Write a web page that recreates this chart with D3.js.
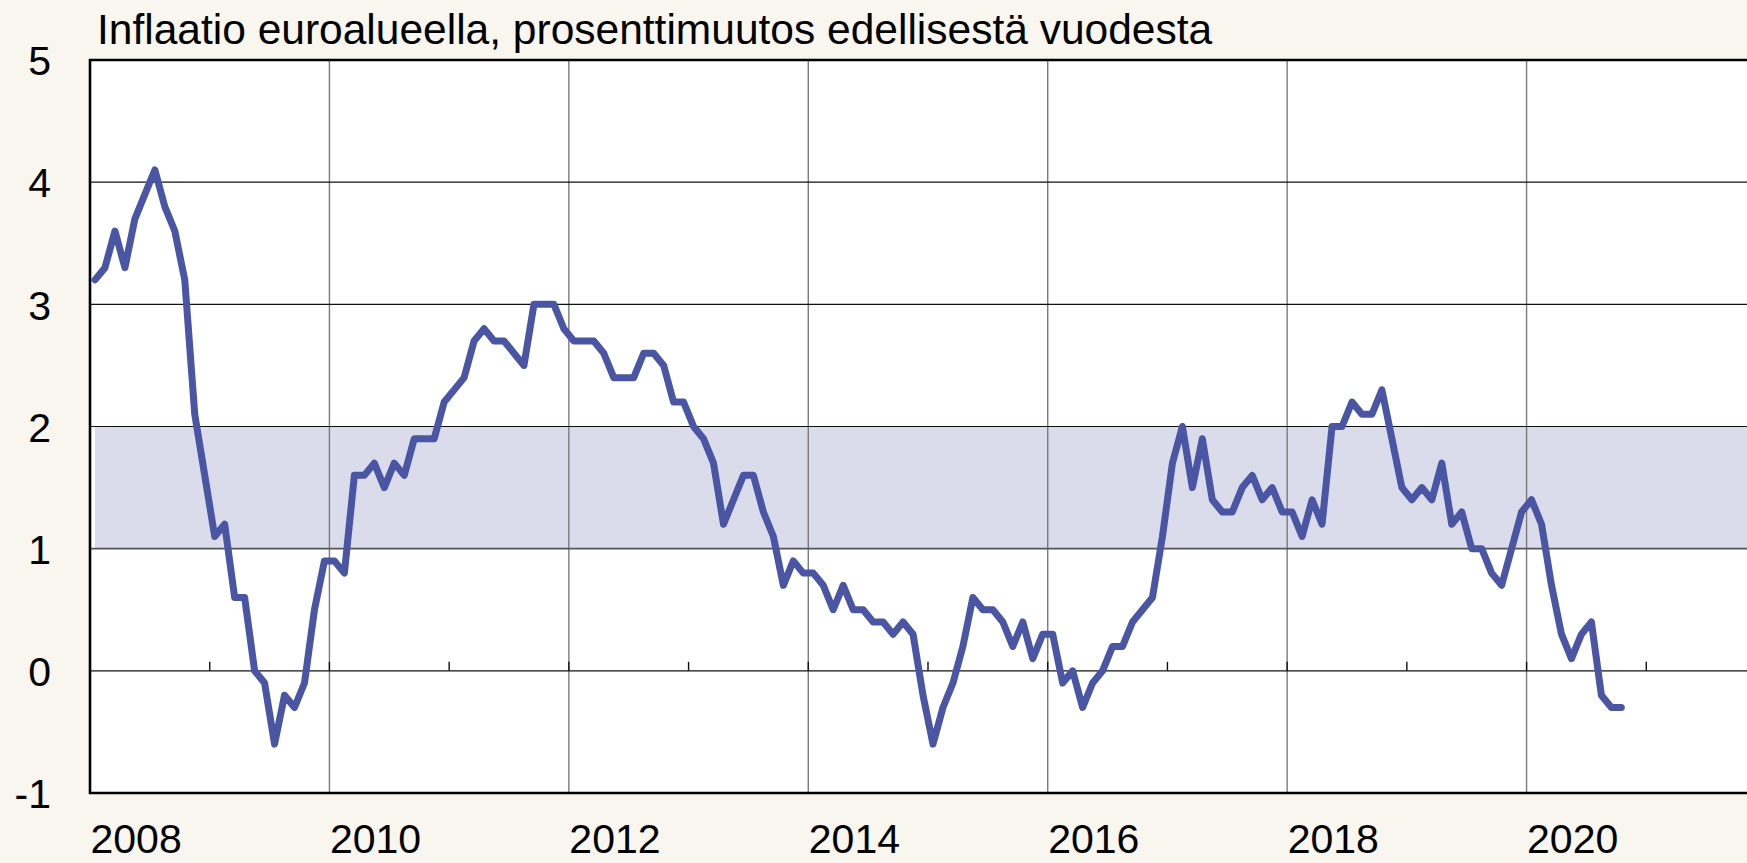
<!DOCTYPE html>
<html>
<head>
<meta charset="utf-8">
<script src="https://cdn.jsdelivr.net/npm/d3@7"></script>
<style>
  body { margin: 0; background: #f9f5ef; }
  svg { display: block; }
  text { font-family: "Liberation Sans", Arial, sans-serif; fill: #000; }
</style>
</head>
<body>
<div id="chart-area"></div>
<script>

// SVG size
var width = 1747,
	height = 863;

var title = "Inflaatio euroalueella, prosenttimuutos edellisestä vuodesta";

// monthly values, starting January 2008
var startYear = 2008;
var inflation = [
	3.2, 3.3, 3.6, 3.3, 3.7, 3.9, 4.1, 3.8, 3.6, 3.2, 2.1, 1.6,     // 2008
	1.1, 1.2, 0.6, 0.6, 0.0, -0.1, -0.6, -0.2, -0.3, -0.1, 0.5, 0.9, // 2009
	0.9, 0.8, 1.6, 1.6, 1.7, 1.5, 1.7, 1.6, 1.9, 1.9, 1.9, 2.2,     // 2010
	2.3, 2.4, 2.7, 2.8, 2.7, 2.7, 2.6, 2.5, 3.0, 3.0, 3.0, 2.8,     // 2011
	2.7, 2.7, 2.7, 2.6, 2.4, 2.4, 2.4, 2.6, 2.6, 2.5, 2.2, 2.2,     // 2012
	2.0, 1.9, 1.7, 1.2, 1.4, 1.6, 1.6, 1.3, 1.1, 0.7, 0.9, 0.8,     // 2013
	0.8, 0.7, 0.5, 0.7, 0.5, 0.5, 0.4, 0.4, 0.3, 0.4, 0.3, -0.2,    // 2014
	-0.6, -0.3, -0.1, 0.2, 0.6, 0.5, 0.5, 0.4, 0.2, 0.4, 0.1, 0.3,  // 2015
	0.3, -0.1, 0.0, -0.3, -0.1, 0.0, 0.2, 0.2, 0.4, 0.5, 0.6, 1.1,  // 2016
	1.7, 2.0, 1.5, 1.9, 1.4, 1.3, 1.3, 1.5, 1.6, 1.4, 1.5, 1.3,     // 2017
	1.3, 1.1, 1.4, 1.2, 2.0, 2.0, 2.2, 2.1, 2.1, 2.3, 1.9, 1.5,     // 2018
	1.4, 1.5, 1.4, 1.7, 1.2, 1.3, 1.0, 1.0, 0.8, 0.7, 1.0, 1.3,     // 2019
	1.4, 1.2, 0.7, 0.3, 0.1, 0.3, 0.4, -0.2, -0.3, -0.3             // 2020
];

// target band (percent)
var band = [1, 2];

var yTicks = [-1, 0, 1, 2, 3, 4, 5];
var yearLabels = [2008, 2010, 2012, 2014, 2016, 2018, 2020];
var gridYears = [2010, 2012, 2014, 2016, 2018, 2020];
var tickYears = d3.range(2008, 2022);

var data = inflation.map(function(v, i) {
	return { t: startYear + (i + 0.5) / 12, value: v };
});

var margin = { left: 90, top: 60 };
var plotRight = 1766;

var x = d3.scaleLinear()
	.domain([2008, 2022])
	.range([margin.left, plotRight]);

var y = d3.scaleLinear()
	.domain([-1, 5])
	.range([793, margin.top]);

var svg = d3.select("#chart-area")
	.append("svg")
	.attr("width", width)
	.attr("height", height);

svg.append("rect")
	.attr("width", width)
	.attr("height", height)
	.attr("fill", "#f9f5ef");

// plot area
svg.append("rect")
	.attr("x", x(2008))
	.attr("y", y(5))
	.attr("width", plotRight - x(2008))
	.attr("height", y(-1) - y(5))
	.attr("fill", "#fff");

// band 1-2 %
svg.append("rect")
	.attr("x", x(data[0].t))
	.attr("y", y(band[1]))
	.attr("width", plotRight - x(data[0].t))
	.attr("height", y(band[0]) - y(band[1]))
	.attr("fill", "#dadcec");

// vertical gridlines
svg.selectAll(".vgrid")
	.data(gridYears)
	.enter()
	.append("line")
	.attr("class", "vgrid")
	.attr("x1", function(d) { return x(d); })
	.attr("x2", function(d) { return x(d); })
	.attr("y1", y(5))
	.attr("y2", y(-1))
	.attr("stroke", "#7a7a7a")
	.attr("stroke-width", 1.4);

// horizontal gridlines
svg.selectAll(".hgrid")
	.data([0, 1, 2, 3, 4])
	.enter()
	.append("line")
	.attr("class", "hgrid")
	.attr("x1", x(2008))
	.attr("x2", plotRight)
	.attr("y1", function(d) { return y(d); })
	.attr("y2", function(d) { return y(d); })
	.attr("stroke", function(d) { return d === 1 ? "#555" : "#111"; })
	.attr("stroke-width", function(d) { return d === 1 ? 1.6 : 1.2; });

// year ticks on the zero line
svg.selectAll(".ytick")
	.data(tickYears)
	.enter()
	.append("line")
	.attr("class", "ytick")
	.attr("x1", function(d) { return x(d); })
	.attr("x2", function(d) { return x(d); })
	.attr("y1", y(0))
	.attr("y2", y(0) - 9)
	.attr("stroke", "#111")
	.attr("stroke-width", 1.4);

// inflation line
var line = d3.line()
	.x(function(d) { return x(d.t); })
	.y(function(d) { return y(d.value); });

svg.append("path")
	.datum(data)
	.attr("d", line)
	.attr("fill", "none")
	.attr("stroke", "#4a55a3")
	.attr("stroke-width", 7)
	.attr("stroke-linejoin", "round")
	.attr("stroke-linecap", "round");

// frame: left, top, bottom
svg.append("path")
	.attr("d", "M" + plotRight + "," + y(5) + "H" + x(2008) + "V" + y(-1) + "H" + plotRight)
	.attr("fill", "none")
	.attr("stroke", "#000")
	.attr("stroke-width", 2.6);

// y axis labels
var yAxis = d3.axisLeft(y)
	.tickValues(yTicks)
	.tickSize(0)
	.tickPadding(0)
	.tickFormat(function(d) { return String(d); });

svg.append("g")
	.attr("transform", "translate(51,0)")
	.call(yAxis)
	.call(function(g) { g.select(".domain").remove(); })
	.selectAll("text")
	.attr("font-family", "Liberation Sans, Arial, sans-serif")
	.attr("font-size", 41)
	.attr("fill", "#000")
	.attr("dy", "0.36em");

// x axis labels, left aligned at the start of the year
var xAxis = d3.axisBottom(x)
	.tickValues(yearLabels)
	.tickSize(0)
	.tickPadding(0)
	.tickFormat(d3.format("d"));

svg.append("g")
	.attr("transform", "translate(0,853)")
	.call(xAxis)
	.call(function(g) { g.select(".domain").remove(); })
	.selectAll("text")
	.attr("font-family", "Liberation Sans, Arial, sans-serif")
	.attr("font-size", 41)
	.attr("fill", "#000")
	.attr("text-anchor", "start")
	.attr("dy", 0)
	.attr("y", 0);

// title
svg.append("text")
	.attr("x", 97)
	.attr("y", 44)
	.attr("font-size", 42.5)
	.text(title);

</script>
</body>
</html>
